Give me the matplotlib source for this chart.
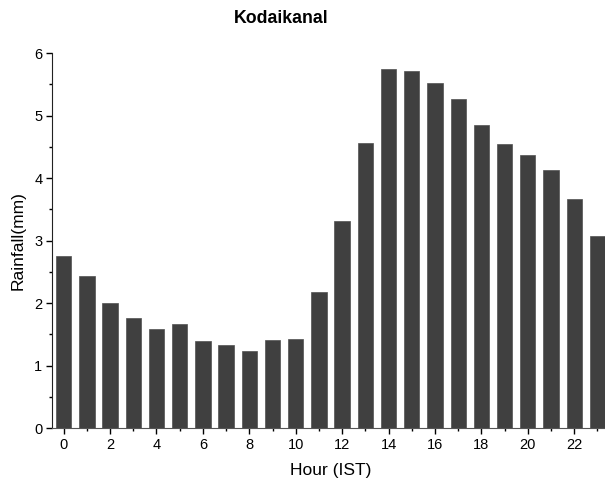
import matplotlib
matplotlib.use("Agg")
import matplotlib.pyplot as plt
from matplotlib.ticker import MultipleLocator

plt.rcParams['font.family'] = ['Liberation Sans', 'DejaVu Sans']

# hourly mean rainfall, Kodaikanal
hours = list(range(24))
rainfall = [2.76, 2.44, 2.00, 1.76, 1.59, 1.66, 1.39, 1.33, 1.23, 1.41, 1.42, 2.17,
            3.31, 4.56, 5.74, 5.71, 5.52, 5.26, 4.85, 4.55, 4.37, 4.13, 3.67, 3.08]

fig = plt.figure(figsize=(6.05, 4.9), dpi=100)
ax = fig.add_axes([0.086, 0.1265, 0.9207, 0.765])

ax.bar(hours, rainfall, width=0.66, color='#404040', edgecolor='#505050', linewidth=0.5)

ax.set_xlim(-0.5, 23.5)
ax.set_ylim(0, 6)
ax.xaxis.set_major_locator(MultipleLocator(2))
ax.xaxis.set_minor_locator(MultipleLocator(1))
ax.yaxis.set_major_locator(MultipleLocator(1))
ax.yaxis.set_minor_locator(MultipleLocator(0.5))
ax.tick_params(which='major', direction='out', length=4, width=1, labelsize=10.5, pad=3)
ax.tick_params(which='minor', direction='out', length=2.5, width=1)

for side in ('top', 'right'):
    ax.spines[side].set_visible(False)
ax.spines['left'].set_color('#222222')
ax.spines['bottom'].set_color('#555555')

ax.set_xlabel('Hour (IST)', fontsize=12.5, labelpad=8)
ax.set_ylabel('Rainfall(mm)', fontsize=12.5, labelpad=6)
# title sits a little left of the axes centre
fig.text(0.4645, 0.953, 'Kodaikanal', fontsize=12.8, fontweight='bold',
         ha='center', va='baseline')

fig.savefig('out.png', dpi=100)
